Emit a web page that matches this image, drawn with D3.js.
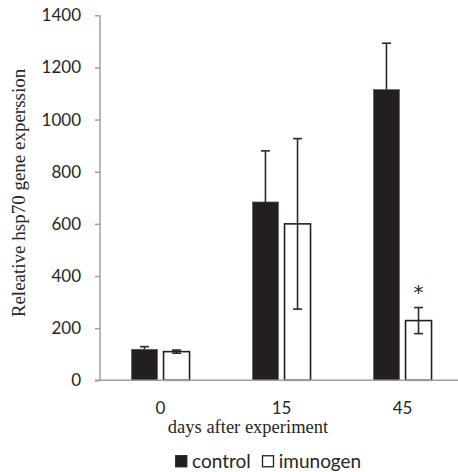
<!DOCTYPE html>
<html>
<head>
<meta charset="utf-8">
<script src="https://cdn.jsdelivr.net/npm/d3@7/dist/d3.min.js"></script>
<style>
	body { margin: 0; background: #fff; }
	svg { display: block; }
</style>
</head>
<body>
<svg id="chart" width="458" height="472"></svg>
<script>
var days = ["0", "15", "45"];
var series = ["control", "imunogen"];
var controlMean = [119, 684, 1115];
var controlErr = [10, 196, 178];
var imunogenMean = [110, 600, 229];
var imunogenErr = [6, 327, 50];
var yTicks = [0, 200, 400, 600, 800, 1000, 1200, 1400];
var starred = [{ day: "45", series: "imunogen" }];

var numFont = "Lato, 'Open Sans', sans-serif";
var serifFont = "'Liberation Serif', 'DejaVu Serif', serif";
var darkFill = "#231f20";
var axisColor = "#a0a0a0";

var svg = d3.select("#chart");

// scales
var x = d3.scaleBand().domain(days).range([100, 463]);
var xInner = d3.scaleBand().domain(series).range([x.bandwidth() * 0.26, x.bandwidth() * 0.74]).paddingInner(0.19);
var y = d3.scaleLinear().domain([0, 1400]).range([380.3, 15.3]);

var rows = [];
days.forEach(function(d, i){
	rows.push({ day: d, series: "control", v: controlMean[i], e: controlErr[i] });
	rows.push({ day: d, series: "imunogen", v: imunogenMean[i], e: imunogenErr[i] });
});

// y axis
var yAxis = d3.axisLeft(y).tickValues(yTicks).tickSize(5).tickPadding(14).tickFormat(d3.format("d"));
var gy = svg.append("g").attr("transform", "translate(100,0)").call(yAxis);
gy.select(".domain").attr("stroke", axisColor).attr("stroke-width", 1.5).attr("d", "M0," + y(1400) + "V" + y(0));
gy.selectAll(".tick line").attr("stroke", axisColor).attr("stroke-width", 1.5);
gy.selectAll(".tick text").attr("font-family", numFont).attr("font-size", 17).attr("fill", "#262626");

// bars
var bars = svg.append("g");
bars.selectAll("rect").data(rows).enter()
	.append("rect")
	.attr("x", function(r){ return x(r.day) + xInner(r.series); })
	.attr("width", xInner.bandwidth())
	.attr("y", function(r){ return y(r.v); })
	.attr("height", function(r){ return y(0) - y(r.v); })
	.attr("fill", function(r){ return r.series === "control" ? darkFill : "#fff"; })
	.attr("stroke", function(r){ return r.series === "control" ? "#555" : darkFill; })
	.attr("stroke-width", function(r){ return r.series === "control" ? 0.6 : 1.6; });

// error bars
var errs = svg.append("g").attr("stroke", "#2a2a2a").attr("stroke-width", 1.6);
rows.forEach(function(r){
	var cx = x(r.day) + xInner(r.series) + xInner.bandwidth() / 2;
	var lo = r.series === "control" ? r.v : r.v - r.e;
	errs.append("line").attr("x1", cx).attr("x2", cx).attr("y1", y(r.v + r.e)).attr("y2", y(lo));
	errs.append("line").attr("x1", cx - 4.5).attr("x2", cx + 4.5).attr("y1", y(r.v + r.e)).attr("y2", y(r.v + r.e));
	if(r.series !== "control"){
		errs.append("line").attr("x1", cx - 4.5).attr("x2", cx + 4.5).attr("y1", y(r.v - r.e)).attr("y2", y(r.v - r.e));
	}
});

// significance marks
starred.forEach(function(s){
	var r = rows.filter(function(q){ return q.day === s.day && q.series === s.series; })[0];
	svg.append("text")
		.attr("x", x(r.day) + xInner(r.series) + xInner.bandwidth() / 2)
		.attr("y", y(r.v + r.e) - 9)
		.attr("text-anchor", "middle")
		.attr("font-family", "'DejaVu Sans', sans-serif").attr("font-size", 20).attr("fill", "#262626")
		.text("*");
});

// x axis
var xAxis = d3.axisBottom(x).tickSize(0).tickPadding(22);
var gx = svg.append("g").attr("transform", "translate(0," + y(0) + ")").call(xAxis);
gx.select(".domain").attr("stroke", axisColor).attr("stroke-width", 1.5).attr("d", "M95,0H458");
gx.selectAll(".tick text").attr("font-family", numFont).attr("font-size", 17).attr("fill", "#262626");

// axis titles
svg.append("text")
	.attr("transform", "translate(25,193) rotate(-90)")
	.attr("text-anchor", "middle")
	.attr("font-family", serifFont).attr("font-size", 19).attr("fill", "#262626")
	.text("Releative hsp70 gene experssion");
svg.append("text")
	.attr("x", 248).attr("y", 433)
	.attr("text-anchor", "middle")
	.attr("font-family", serifFont).attr("font-size", 18.5).attr("fill", "#262626")
	.text("days after experiment");

// legend
var legend = svg.append("g").attr("transform", "translate(175,455)");
var lx = 0;
series.forEach(function(s){
	legend.append("rect")
		.attr("x", lx + 0.75).attr("y", 0.75).attr("width", 11).attr("height", 11)
		.attr("fill", s === "control" ? darkFill : "#fff")
		.attr("stroke", darkFill).attr("stroke-width", 1.3);
	var t = legend.append("text")
		.attr("x", lx + 17).attr("y", 12.5)
		.attr("font-family", numFont).attr("font-size", 19).attr("fill", "#262626")
		.text(s);
	lx += 17 + t.node().getComputedTextLength() + 11;
});
</script>
</body>
</html>
